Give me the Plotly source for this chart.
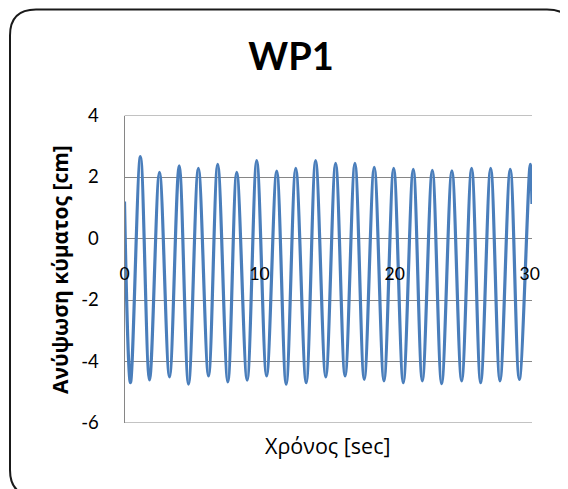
import plotly.graph_objects as go

# ---- data ----
trough_times = [0.44, 1.85, 3.33, 4.74, 6.22, 7.65, 9.08, 10.52, 11.97, 13.45,
                14.90, 16.33, 17.75, 19.21, 20.64, 22.05, 23.48, 24.96, 26.37, 27.80, 29.23]
trough_vals = [-4.69, -4.60, -4.50, -4.74, -4.47, -4.66, -4.61, -4.47, -4.74, -4.69,
               -4.50, -4.47, -4.58, -4.63, -4.69, -4.63, -4.72, -4.63, -4.69, -4.63, -4.58]
peak_times = [1.18, 2.59, 4.05, 5.47, 6.90, 8.31, 9.79, 11.27, 12.68, 14.15,
              15.63, 17.06, 18.49, 19.93, 21.38, 22.79, 24.24, 25.70, 27.11, 28.56, 30.04]
peak_vals = [2.66, 2.15, 2.36, 2.28, 2.41, 2.15, 2.53, 2.19, 2.28, 2.53,
             2.44, 2.44, 2.31, 2.28, 2.25, 2.22, 2.20, 2.28, 2.28, 2.25, 2.41]
start_time, start_val = 0.0, 1.2
end_time, end_val = 30.17, 1.12

y_ticks = [-6, -4, -2, 0, 2, 4]
x_ticks = [0, 10, 20, 30]
title_text = "WP1"
x_title = "Χρόνος [sec]"
y_title = "Ανύψωση κύματος [cm]"

t = [start_time]
eta = [start_val]
for tt, tv, pt, pv in zip(trough_times, trough_vals, peak_times, peak_vals):
    t += [tt, pt]
    eta += [tv, pv]
t.append(end_time)
eta.append(end_val)

# page body has an 8px margin: the figure is drawn at (8, 8) in the window
OFF = 8
W, H = 568 - OFF, 489 - OFF
def px(x):
    return (x - OFF) / W
def py(y):
    return 1 - (y - OFF) / H

fig = go.Figure()
fig.add_trace(go.Scatter(x=t, y=eta, mode="lines",
                         line=dict(color="#4A7EBB", width=3.2, shape="spline", smoothing=1.0),
                         showlegend=False, hoverinfo="skip"))

grid_c = "#868686"
fig.update_layout(
    width=W, height=H,
    margin=dict(l=0, r=0, t=0, b=0, pad=0, autoexpand=False),
    paper_bgcolor="white", plot_bgcolor="white",
    title=dict(text="<b>" + title_text + "</b>", x=px(291), y=py(57), xanchor="center", yanchor="middle",
               automargin=False,
               font=dict(family="Lato, Open Sans", size=38, color="black")),
    xaxis=dict(domain=[px(124.5), px(532)], range=[0, 30.17],
               anchor="free", position=py(261), automargin=False,
               tickvals=x_ticks, ticktext=[str(v) for v in x_ticks],
               showgrid=False, zeroline=False, showline=False, ticks="",
               tickfont=dict(family="Lato, Open Sans", size=17.5, color="black")),
    yaxis=dict(domain=[py(423), py(115.5)], range=[-6, 4], automargin=False,
               tickvals=y_ticks, ticktext=[str(v) for v in y_ticks],
               showgrid=True, gridcolor=grid_c, gridwidth=1,
               zeroline=False, showline=True, linecolor=grid_c, linewidth=1,
               ticks="", ticklabelstandoff=21,
               tickfont=dict(family="Lato, Open Sans", size=18.5, color="black")),
    annotations=[
        dict(text=x_title, xref="paper", yref="paper", x=px(327), y=py(445),
             xanchor="center", yanchor="middle", showarrow=False,
             font=dict(family="Open Sans", size=21.5, color="black")),
        dict(text="<b>" + y_title + "</b>", xref="paper", yref="paper", x=px(60), y=py(270),
             xanchor="center", yanchor="middle", showarrow=False, textangle=-90,
             font=dict(family="Open Sans", size=21, color="black")),
    ],
)

# top and bottom gridlines of the plot area
for yv in (-6, 4):
    fig.add_shape(type="line", xref="paper", yref="y", x0=px(124.5), x1=px(532), y0=yv, y1=yv,
                  line=dict(color=grid_c, width=1), layer="below")

# rounded chart border
L, T, R, B, r = 10, 9.5, 573, 496, 26
path = (f"M {px(L + r)},{py(T)} L {px(R - r)},{py(T)} Q {px(R)},{py(T)} {px(R)},{py(T + r)} "
        f"L {px(R)},{py(B - r)} Q {px(R)},{py(B)} {px(R - r)},{py(B)} "
        f"L {px(L + r)},{py(B)} Q {px(L)},{py(B)} {px(L)},{py(B - r)} "
        f"L {px(L)},{py(T + r)} Q {px(L)},{py(T)} {px(L + r)},{py(T)} Z")
fig.add_shape(type="path", xref="paper", yref="paper", path=path,
              line=dict(color="#1a1a1a", width=2))

fig.write_html("out.html", config={"displayModeBar": False})
